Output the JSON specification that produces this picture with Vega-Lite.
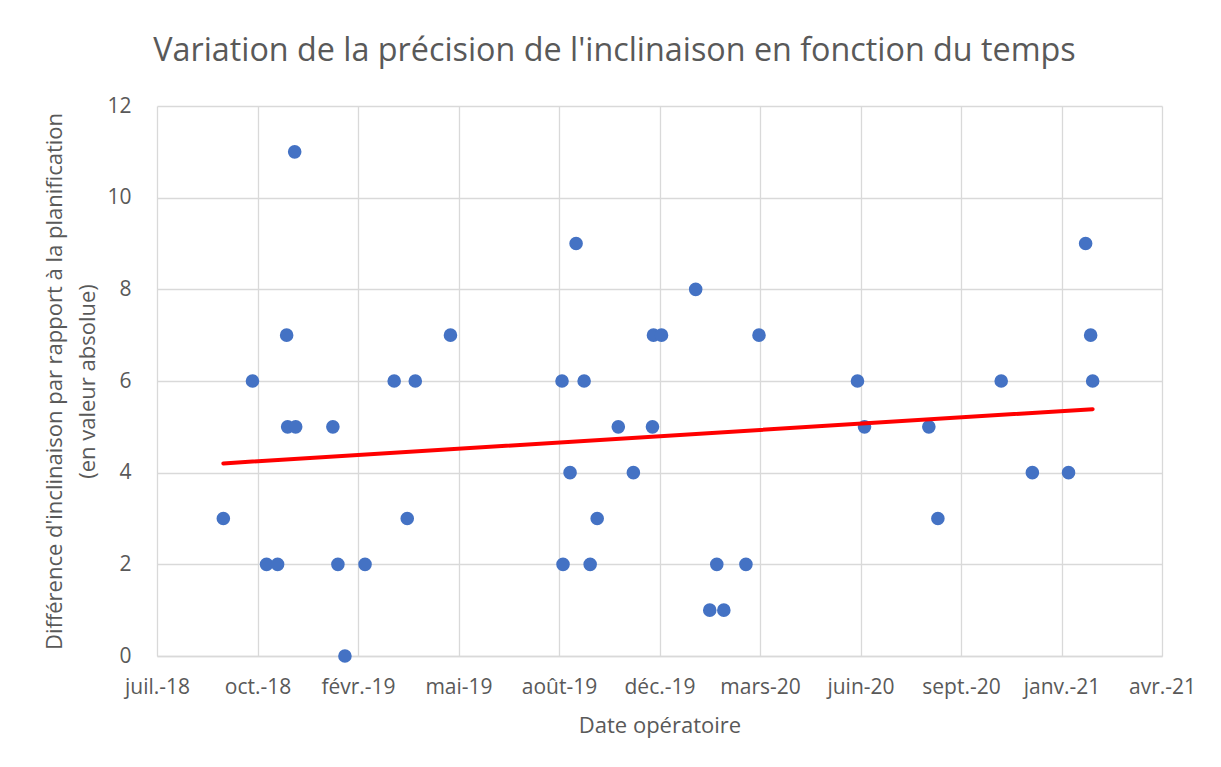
{
  "$schema": "https://vega.github.io/schema/vega-lite/v6.json",
  "width": 1005,
  "height": 550,
  "autosize": {"type": "none"},
  "padding": {"left": 157, "top": 106, "right": 59, "bottom": 111},
  "background": "white",
  "title": {
    "text": "Variation de la précision de l'inclinaison en fonction du temps",
    "font": "Open Sans",
    "fontSize": 32.3,
    "fontWeight": "normal",
    "color": "#595959",
    "anchor": "middle",
    "dx": -45,
    "baseline": "alphabetic",
    "offset": 2
  },
  "config": {
    "font": "Open Sans",
    "view": {"stroke": null},
    "axis": {
      "labelFont": "Open Sans",
      "titleFont": "Open Sans",
      "labelColor": "#595959",
      "titleColor": "#595959",
      "labelFontSize": 21,
      "titleFontSize": 22,
      "titleFontWeight": "normal",
      "gridColor": "#D9D9D9",
      "gridWidth": 1.3,
      "ticks": false
    }
  },
  "data": {
    "values": [
      {"date": "2018-09-25", "ecart": 3},
      {"date": "2018-10-24", "ecart": 6},
      {"date": "2018-11-07", "ecart": 2},
      {"date": "2018-11-18", "ecart": 2},
      {"date": "2018-11-27", "ecart": 7},
      {"date": "2018-11-28", "ecart": 5},
      {"date": "2018-12-05", "ecart": 11},
      {"date": "2018-12-06", "ecart": 5},
      {"date": "2019-01-12", "ecart": 5},
      {"date": "2019-01-17", "ecart": 2},
      {"date": "2019-01-24", "ecart": 0},
      {"date": "2019-02-13", "ecart": 2},
      {"date": "2019-03-14", "ecart": 6},
      {"date": "2019-03-27", "ecart": 3},
      {"date": "2019-04-04", "ecart": 6},
      {"date": "2019-05-09", "ecart": 7},
      {"date": "2019-08-28", "ecart": 6},
      {"date": "2019-08-29", "ecart": 2},
      {"date": "2019-09-05", "ecart": 4},
      {"date": "2019-09-11", "ecart": 9},
      {"date": "2019-09-19", "ecart": 6},
      {"date": "2019-09-25", "ecart": 2},
      {"date": "2019-10-02", "ecart": 3},
      {"date": "2019-10-23", "ecart": 5},
      {"date": "2019-11-07", "ecart": 4},
      {"date": "2019-11-26", "ecart": 5},
      {"date": "2019-11-27", "ecart": 7},
      {"date": "2019-12-05", "ecart": 7},
      {"date": "2020-01-08", "ecart": 8},
      {"date": "2020-01-22", "ecart": 1},
      {"date": "2020-01-29", "ecart": 2},
      {"date": "2020-02-05", "ecart": 1},
      {"date": "2020-02-27", "ecart": 2},
      {"date": "2020-03-11", "ecart": 7},
      {"date": "2020-06-17", "ecart": 6},
      {"date": "2020-06-24", "ecart": 5},
      {"date": "2020-08-27", "ecart": 5},
      {"date": "2020-09-05", "ecart": 3},
      {"date": "2020-11-07", "ecart": 6},
      {"date": "2020-12-08", "ecart": 4},
      {"date": "2021-01-13", "ecart": 4},
      {"date": "2021-01-30", "ecart": 9},
      {"date": "2021-02-04", "ecart": 7},
      {"date": "2021-02-06", "ecart": 6}
    ]
  },
  "encoding": {
    "x": {
      "field": "date",
      "type": "temporal",
      "title": "Date opératoire",
      "scale": {
        "type": "utc",
        "domain": [
          {"year": 2018, "month": 7, "date": 21, "utc": true},
          {"year": 2021, "month": 4, "date": 16, "utc": true}
        ],
        "nice": false
      },
      "axis": {
        "values": [
          {"year": 2018, "month": 7, "date": 21, "utc": true},
          {"year": 2018, "month": 10, "date": 29, "utc": true},
          {"year": 2019, "month": 2, "date": 6, "utc": true},
          {"year": 2019, "month": 5, "date": 17, "utc": true},
          {"year": 2019, "month": 8, "date": 25, "utc": true},
          {"year": 2019, "month": 12, "date": 3, "utc": true},
          {"year": 2020, "month": 3, "date": 12, "utc": true},
          {"year": 2020, "month": 6, "date": 20, "utc": true},
          {"year": 2020, "month": 9, "date": 28, "utc": true},
          {"year": 2021, "month": 1, "date": 6, "utc": true},
          {"year": 2021, "month": 4, "date": 16, "utc": true}
        ],
        "labelExpr": "['janv.','févr.','mars','avr.','mai','juin','juil.','août','sept.','oct.','nov.','déc.'][utcmonth(datum.value)] + '-' + utcFormat(datum.value, '%y')",
        "grid": true,
        "domainColor": "#D9D9D9",
        "domainWidth": 1.3,
        "labelPadding": 20,
        "titlePadding": 18,
        "labelFlush": false,
        "labelOverlap": false
      }
    },
    "y": {
      "field": "ecart",
      "type": "quantitative",
      "scale": {"domain": [0, 12], "nice": false},
      "title": [
        "Différence d'inclinaison par rapport à la planification",
        "(en valeur absolue)"
      ],
      "axis": {
        "values": [0, 2, 4, 6, 8, 10, 12],
        "domain": false,
        "labelPadding": 26,
        "titlePadding": 7,
        "titleLineHeight": 33
      }
    }
  },
  "layer": [
    {
      "mark": {"type": "point", "filled": true, "size": 185, "color": "#4472C4", "opacity": 1}
    },
    {
      "transform": [{"regression": "ecart", "on": "date"}],
      "mark": {"type": "line", "color": "#FF0000", "strokeWidth": 4, "strokeCap": "round"}
    }
  ]
}
